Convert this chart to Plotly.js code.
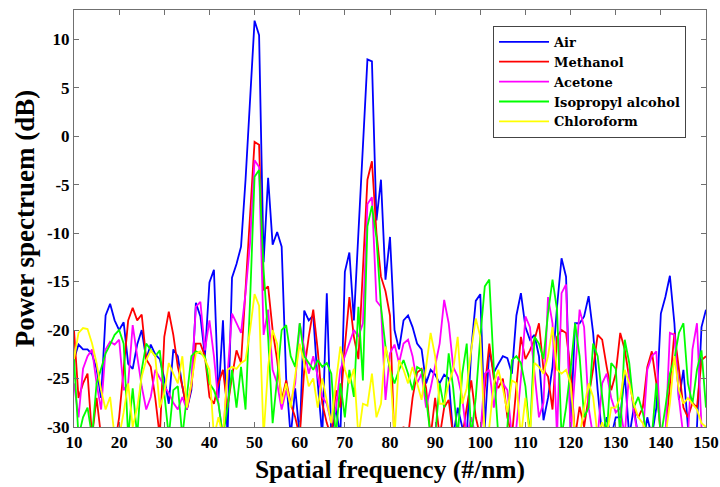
<!DOCTYPE html>
<html>
<head>
<meta charset="utf-8">
<script src="https://cdn.plot.ly/plotly-3.0.1.min.js"></script>
<style>html,body{margin:0;padding:0;background:#fff;}#chart{width:720px;height:487px;}</style>
</head>
<body>
<div id="chart"></div>
<script>
// Spatial frequency (#/nm): 10..150, step 1
const freqStart = 10, freqEnd = 150;
const freq = [];
for (let f = freqStart; f <= freqEnd; f++) freq.push(f);

const seriesNames = ["Air", "Methanol", "Acetone", "Isopropyl alcohol", "Chloroform"];

const air = [
 -23,-21.5,-22,-22,-22.5,-24,-27,-18.5,-17.3,-19,
 -20,-19.2,-23.5,-24,-21.5,-20,-23,-21.5,-22.5,-23,
 -25,-27.6,-22,-22.7,-25.8,-28.2,-26.2,-17.2,-18.6,-22.7,
 -15.1,-13.8,-27,-19,-31,-14.6,-13.2,-11.4,-4.5,3.7,
 11.9,10.4,-13,-4.3,-11.2,-9.9,-11.4,-25,-31,-26,
 -31,-18,-19,-18.5,-25.5,-31,-16.2,-31,-28,-31,
 -14,-12,-19,-10,-1,7.9,7.7,-8.7,-4.5,-14.8,
 -10.4,-20,-22,-19,-18.5,-19.7,-21.4,-22,-25.5,-24.1,
 -24.6,-25.5,-24.6,-25,-31,-28,-30,-31,-22,-17,
 -16.3,-30,-22,-24.4,-23.5,-22.7,-22.9,-24.5,-18.5,-16.2,
 -19.7,-21,-20.5,-22.7,-29.3,-27,-23.8,-17.6,-12.6,-14.5,
 -30,-19.3,-19.3,-18.6,-16.5,-20.3,-26.2,-31,-29,-31,
 -29,-29,-24.5,-31,-28,-31,-32,-29,-31,-28,
 -18.3,-16.6,-14.4,-19.3,-27.2,-24.1,-30,-31,-30,-19.7,
 -17.9
];

const methanol = [
 -20,-27,-25.5,-24.5,-31,-27,-31,-32,-31,-32,
 -29,-24,-19,-17.7,-19,-18.4,-23,-23.8,-27,-31,
 -20.7,-18.1,-20.5,-23.8,-25.8,-28.2,-25.8,-21.4,-21.4,-22.7,
 -26.9,-27.6,-25.5,-24.1,-28,-24.8,-22.1,-23.4,-16.2,-8,
 -0.6,-0.9,-15.9,-15.5,-20,-23.1,-27.2,-25.2,-27.6,-29,
 -31,-24.1,-20.7,-17.9,-22.1,-27.6,-29.6,-31,-26.2,-28,
 -21.7,-16.6,-20.7,-23,-14,-4.5,-2.6,-10,-14.5,-16,
 -18.5,-32,-31,-30,-31,-27,-24.4,-24,-26,-31,
 -27,-31,-28,-27.2,-31,-31,-31,-28,-25.2,-29,
 -31,-26,-21.4,-25,-26,-25,-29,-31,-26,-20.7,
 -23,-22.1,-21,-19.3,-24.1,-24.8,-28.2,-20.7,-20,-20.3,
 -24.1,-31,-27.9,-30,-26.9,-24,-20.5,-21,-23.8,-26.2,
 -24.5,-20.3,-22,-24.8,-28,-29,-28,-23.8,-22.2,-25.5,
 -31,-31,-26,-20.3,-24,-28,-29,-27.5,-28,-23.1,
 -22.7
];

const acetone = [
 -25.5,-29,-24,-22.7,-22,-25.5,-28.2,-22,-21.2,-21.5,
 -21,-26.2,-25.5,-19.5,-22.7,-25.8,-28.2,-26.9,-24.1,-25,
 -25.8,-26.5,-27.5,-28.2,-26.9,-28.2,-25.5,-17.6,-17.1,-22.1,
 -19,-22.7,-27.6,-31,-25,-18.3,-19.3,-20.3,-16.2,-11,
 -2.5,-3.2,-20.5,-17.9,-24.1,-25.5,-28.2,-26.2,-27.6,-25.5,
 -19.3,-22.1,-24.5,-22.7,-24.8,-26.9,-27.6,-29.6,-28.2,-24.1,
 -22.7,-21.4,-20,-20.7,-19.3,-7,-6.3,-17,-17.6,-27.2,
 -22.4,-21.5,-23.4,-21.4,-21,-22.7,-25.5,-24.5,-28,-26,
 -23.8,-21.4,-16.9,-19.3,-23.8,-24.8,-27,-31,-29,-31,
 -31,-24.5,-24.1,-28,-24.8,-25.5,-26.2,-31,-30,-25,
 -18.6,-19.7,-24.1,-29,-27.5,-16.6,-19.3,-31,-16.2,-15.3,
 -31,-24.1,-17.9,-19.7,-28,-31,-31,-25.5,-24.5,-27,
 -28.5,-28,-31,-24.1,-28.5,-31,-31,-24.1,-22.7,-22.2,
 -31,-31,-20.3,-20.5,-27,-31,-31,-22,-19.3,-30,
 -31
];

const isopropyl = [
 -23,-31,-29,-28,-31,-25.5,-24,-22.4,-21.5,-20.5,
 -20,-21.4,-31,-26,-31,-24.1,-21.4,-22.1,-22.7,-22.1,
 -27,-31,-26.2,-25.8,-31,-26.9,-22.7,-22.2,-22.4,-22.7,
 -25.5,-26.2,-27.6,-31,-28,-24.1,-28,-23.8,-28.2,-17,
 -4.2,-3.5,-13.8,-20.7,-29.6,-25,-20,-19.5,-22.7,-23.8,
 -19.3,-22.7,-23.4,-24.1,-23.1,-23.8,-23.4,-24.5,-31,-25.5,
 -29,-24.1,-26.9,-17.6,-25.2,-9.3,-7.2,-10.5,-17.6,-21.7,
 -24.1,-25.5,-24.1,-23.1,-24.5,-26.2,-23.8,-24.1,-27,-31,
 -31,-25.5,-28,-22.4,-26,-31,-24.5,-21.4,-31,-27,
 -20.7,-15.5,-14.8,-24,-31,-31,-30,-23.1,-22.7,-23.4,
 -25.8,-31,-20.7,-21.4,-23,-18.3,-14.8,-17.9,-31,-28,
 -24.1,-19.3,-22.7,-29,-28,-21.4,-22.7,-27,-31,-23.4,
 -24,-31,-21,-23.4,-28,-26.9,-28.5,-31,-31,-25.5,
 -31,-28,-24.5,-23,-20.3,-19.3,-25.5,-27.6,-24.1,-22.1,
 -28
];

const chloroform = [
 -23,-20.3,-19.8,-19.9,-21.4,-23.4,-26.2,-28.2,-26.9,-31,
 -31,-28.5,-25.5,-30,-28,-24.8,-23.1,-22.1,-22.7,-28,
 -26.5,-23.4,-24.5,-25.5,-22.7,-28,-25.5,-22.4,-22.2,-23,
 -24.1,-31,-29,-31,-24.1,-23.8,-24,-23.4,-23.1,-20,
 -16.3,-17.5,-31,-23.8,-20,-21.4,-27.6,-25.5,-28,-24.5,
 -21.4,-23.4,-25.8,-25,-28,-25,-27.5,-29.6,-25.5,-21.7,
 -24.1,-25.5,-24,-31,-27.6,-27.8,-24.5,-29,-27.6,-21.7,
 -23.8,-31,-23.1,-24.1,-25.5,-23.8,-25.5,-27.2,-23.8,-20.3,
 -22.7,-27.6,-27.6,-25.5,-24.1,-20.7,-27.6,-26,-22,-18.8,
 -20.7,-31,-30,-25.5,-24.1,-26,-28.5,-25.2,-25.5,-31,
 -27,-31,-23.4,-23.8,-24.5,-22.7,-19.7,-24.1,-24.5,-24.1,
 -25.5,-31,-31,-28,-25.5,-26.9,-31,-29.5,-31,-28,
 -28,-27,-24.1,-25.5,-27.6,-29,-29.6,-31,-31,-31,
 -31,-31,-27.6,-22.7,-26.2,-27.6,-27,-27.6,-28.2,-29.6,
 -30
];

const seriesValues = [air, methanol, acetone, isopropyl, chloroform];
const seriesColors = ["#0000FF", "#FF0000", "#FF00FF", "#00FF00", "#FFFF00"];

const xTicks = [10,20,30,40,50,60,70,80,90,100,110,120,130,140,150];
const yTicks = [-30,-25,-20,-15,-10,-5,0,5,10];

const traces = seriesNames.map((name, i) => ({
  x: freq,
  y: seriesValues[i],
  type: "scatter",
  mode: "lines",
  name: name,
  line: { color: seriesColors[i], width: 1.8 }
}));

const serif = "Liberation Serif, Times New Roman, serif";
const axisCommon = {
  showline: true, linecolor: "#707070", linewidth: 1,
  mirror: "allticks", ticks: "inside", ticklen: 5, tickcolor: "#707070",
  showgrid: false, zeroline: false,
  tickfont: { family: serif, size: 17, color: "#000", weight: "bold" }
};

const layout = {
  width: 720, height: 487, autosize: false,
  margin: { l: 74, r: 14, t: 10, b: 60 },
  paper_bgcolor: "#fff", plot_bgcolor: "#fff",
  showlegend: true,
  legend: {
    x: 0.663, y: 0.962, xanchor: "left", yanchor: "top",
    bgcolor: "#fff", bordercolor: "#444", borderwidth: 1,
    font: { family: "DejaVu Serif, serif", size: 13, color: "#000", weight: "bold" },
    itemwidth: 50, tracegroupgap: 0
  },
  xaxis: Object.assign({}, axisCommon, {
    range: [freqStart, freqEnd], tickvals: xTicks, ticktext: xTicks.map(String),
    title: { text: "Spatial frequency (#/nm)", font: { family: serif, size: 25.5, color: "#000", weight: "bold" }, standoff: 8 }
  }),
  yaxis: Object.assign({}, axisCommon, {
    range: [-30, 13], tickvals: yTicks, ticktext: yTicks.map(String),
    title: { text: "Power spectruem (dB)", font: { family: serif, size: 27, color: "#000", weight: "bold" }, standoff: 4 }
  })
};

Plotly.newPlot("chart", traces, layout, { displayModeBar: false, staticPlot: true });
</script>
</body>
</html>
